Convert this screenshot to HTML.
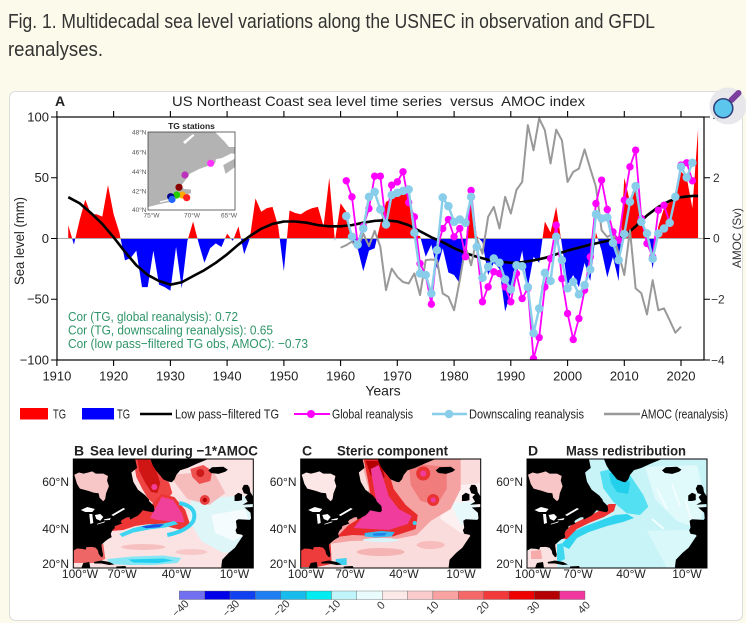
<!DOCTYPE html>
<html><head><meta charset="utf-8">
<style>
html,body{margin:0;padding:0;background:#fcfaea;}
svg{display:block;}
text{font-family:"Liberation Sans",sans-serif;}
marker{overflow:visible;}
</style></head>
<body>
<svg width="746" height="623" viewBox="0 0 746 623" xmlns="http://www.w3.org/2000/svg">
<defs>
<clipPath id="plot"><rect x="57" y="117" width="647" height="243"/></clipPath>
<clipPath id="pos"><rect x="57" y="110" width="647" height="128.5"/></clipPath>
<clipPath id="neg"><rect x="57" y="238.5" width="647" height="121.5"/></clipPath>
<clipPath id="mc"><rect x="0" y="0" width="180" height="109"/></clipPath>
<clipPath id="ic"><rect x="148" y="132" width="87" height="78"/></clipPath>
<marker id="mg" markerUnits="userSpaceOnUse" markerWidth="2" markerHeight="8" refX="0" refY="0" overflow="visible"><ellipse cx="0" cy="0" rx="0.65" ry="3.05" fill="#ff00ff"/></marker>
<marker id="lb" markerUnits="userSpaceOnUse" markerWidth="2" markerHeight="8" refX="0" refY="0" overflow="visible"><ellipse cx="0" cy="0" rx="0.75" ry="3.5" fill="#88cdea"/></marker>
</defs>
<rect width="746" height="623" fill="#fcfaea"/>
<text x="8" y="28" font-size="20" fill="#333" textLength="647" lengthAdjust="spacingAndGlyphs">Fig. 1. Multidecadal sea level variations along the USNEC in observation and GFDL</text>
<text x="8" y="56" font-size="20" fill="#333" textLength="95" lengthAdjust="spacingAndGlyphs">reanalyses.</text>
<rect x="9.5" y="91.5" width="733" height="529" rx="6" fill="#fff" stroke="#dcdcdc"/>

<!-- Panel A titles -->
<text x="55" y="106" font-size="14" font-weight="bold" fill="#222">A</text>
<text x="172" y="106" font-size="14" fill="#222" textLength="413" lengthAdjust="spacingAndGlyphs">US Northeast Coast sea level time series&#160; versus&#160; AMOC index</text>

<!-- fills -->
<g clip-path="url(#pos)">
<polygon transform="translate(56.9,238.5) scale(5.674,-1.215) translate(-1910,0)" fill="#ff0000" points="1912,0 1912,11 1913,-5 1914,15 1915,32 1916,20 1917,20 1918,18 1919,44 1920,20 1921,5 1922,-18 1923,-16 1924,-10 1925,-40 1926,-40 1927,-10 1928,-38 1929,-40 1930,-43 1931,-7 1932,-41 1933,-2 1934,14 1935,-4 1936,-20 1937,-8 1938,-4 1939,-7 1940,4 1941,-2 1942,10 1943,-13 1944,0 1945,33 1946,22 1947,25 1948,26 1949,10 1950,-27 1951,23 1952,21 1953,20 1954,23 1955,25 1956,26 1957,10 1958,50 1959,-2 1960,29 1961,22 1962,-3 1963,-8 1964,-27 1965,-10 1966,-8 1967,12 1968,30 1969,33 1970,35 1971,38 1972,36 1973,3 1974,2 1975,-15 1976,-5 1977,-25 1978,-8 1979,-28 1980,-30 1981,-37 1982,-5 1983,40 1984,2 1985,-3 1986,-30 1987,-20 1988,-25 1989,-60 1990,-45 1991,-30 1992,-10 1993,-40 1994,-15 1995,-20 1996,14 1997,5 1998,26 1999,-5 2000,-38 2001,-30 2002,-40 2003,-20 2004,-35 2005,5 2006,-10 2007,-32 2008,-15 2009,-35 2010,50 2011,30 2012,45 2013,15 2014,5 2015,-25 2016,10 2017,25 2018,30 2019,35 2020,55 2021,50 2022,25 2023,90 2023,0"/>
</g>
<g clip-path="url(#neg)">
<polygon transform="translate(56.9,238.5) scale(5.674,-1.215) translate(-1910,0)" fill="#0000ff" points="1912,0 1912,11 1913,-5 1914,15 1915,32 1916,20 1917,20 1918,18 1919,44 1920,20 1921,5 1922,-18 1923,-16 1924,-10 1925,-40 1926,-40 1927,-10 1928,-38 1929,-40 1930,-43 1931,-7 1932,-41 1933,-2 1934,14 1935,-4 1936,-20 1937,-8 1938,-4 1939,-7 1940,4 1941,-2 1942,10 1943,-13 1944,0 1945,33 1946,22 1947,25 1948,26 1949,10 1950,-27 1951,23 1952,21 1953,20 1954,23 1955,25 1956,26 1957,10 1958,50 1959,-2 1960,29 1961,22 1962,-3 1963,-8 1964,-27 1965,-10 1966,-8 1967,12 1968,30 1969,33 1970,35 1971,38 1972,36 1973,3 1974,2 1975,-15 1976,-5 1977,-25 1978,-8 1979,-28 1980,-30 1981,-37 1982,-5 1983,40 1984,2 1985,-3 1986,-30 1987,-20 1988,-25 1989,-60 1990,-45 1991,-30 1992,-10 1993,-40 1994,-15 1995,-20 1996,14 1997,5 1998,26 1999,-5 2000,-38 2001,-30 2002,-40 2003,-20 2004,-35 2005,5 2006,-10 2007,-32 2008,-15 2009,-35 2010,50 2011,30 2012,45 2013,15 2014,5 2015,-25 2016,10 2017,25 2018,30 2019,35 2020,55 2021,50 2022,25 2023,90 2023,0"/>
</g>
<line x1="57" y1="238.5" x2="704" y2="238.5" stroke="#aaa" stroke-width="1"/>

<g clip-path="url(#plot)">
<polyline transform="translate(56.9,238.5) scale(5.674,-1.215) translate(-1910,0)" fill="none" stroke="#000" stroke-width="2.6" vector-effect="non-scaling-stroke" stroke-linejoin="round" points="1912,34 1914,29 1916,21 1918,12 1920,1 1922,-11 1924,-22 1926,-30 1928,-35 1930,-38 1932,-36 1934,-31 1936,-26 1938,-20 1940,-13 1942,-5 1944,2 1946,8 1948,12 1950,14 1952,14 1954,13 1956,11 1958,10 1960,10 1962,11 1964,13 1966,14.5 1968,15 1970,14 1972,11 1974,6 1976,1 1978,-3 1980,-8 1982,-12 1984,-15 1986,-17.5 1988,-19 1990,-20 1992,-19.5 1994,-18 1996,-16 1998,-13 2000,-10 2002,-7.5 2004,-5 2006,-3 2008,-1 2010,2 2012,10 2014,19 2016,26 2018,31 2020,34 2022,35 2023,35"/>
<polyline transform="translate(56.9,238.5) scale(5.674,-30.4) translate(-1910,0)" fill="none" stroke="#999" stroke-width="2" vector-effect="non-scaling-stroke" stroke-linejoin="round" points="1960,-0.3 1961,-0.22 1962,-0.1 1963,-0.33 1964,0.16 1965,-0.25 1966,0.25 1967,-0.27 1968,-1.7 1969,-0.99 1970,-1.26 1971,-1.43 1972,-1.48 1973,-1.15 1974,-1.86 1975,-0.71 1976,-0.69 1977,-0.71 1978,-1.81 1979,-1.92 1980,-2.36 1981,-1.37 1982,-0.27 1983,-0.88 1984,0 1985,-0.5 1986,0.71 1987,1.04 1988,0.33 1989,1.37 1990,0.82 1991,1.6 1992,1.86 1993,3.73 1994,2.9 1995,3.95 1996,3.56 1997,2.47 1998,3.58 1999,3.23 2000,1.86 2001,2.19 2002,2.3 2003,2.93 2004,2.3 2005,1.7 2006,0.27 2007,0.05 2008,0.16 2009,-0.5 2010,-1.2 2011,0.27 2012,-1.64 2013,-1.8 2014,-2.5 2015,-1.37 2016,-2.36 2017,-2.3 2018,-2.69 2019,-3.1 2020,-2.9"/>
<polyline transform="translate(56.9,238.5) scale(5.674,-1.215) translate(-1910,0)" fill="none" stroke="#ff00ff" stroke-width="1.8" vector-effect="non-scaling-stroke" stroke-linejoin="round" marker-start="url(#mg)" marker-mid="url(#mg)" marker-end="url(#mg)" points="1961,47.5 1962,34.3 1963,-4.1 1964,10 1965,24.7 1966,51.3 1967,51.3 1968,11.8 1969,43.9 1970,46.6 1971,54.9 1972,29.6 1973,17.8 1974,-20.6 1975,-30.2 1976,-54 1977,-9.1 1978,8.2 1979,15.6 1980,1.4 1981,8.2 1982,-15 1983,39.5 1984,-6.9 1985,-52.1 1986,-39.8 1987,-27.4 1988,-28.8 1989,-39.8 1990,-52.1 1991,-28.8 1992,-49.4 1993,-41.2 1994,-98.8 1995,-81.5 1996,-39.8 1997,-16.5 1998,11 1999,-33 2000,-61.7 2001,-83.1 2002,-65.8 2003,-42.5 2004,-15.1 2005,28.8 2006,48 2007,23.9 2008,5.5 2009,-1.4 2010,31.6 2011,59 2012,72.7 2013,16.5 2014,-4.1 2015,-15.1 2016,23.3 2017,27.4 2018,12.9 2019,34.3 2020,60.4 2021,62.3 2022,47.5"/>
<polyline transform="translate(56.9,238.5) scale(5.674,-1.215) translate(-1910,0)" fill="none" stroke="#88cdea" stroke-width="2.4" vector-effect="non-scaling-stroke" stroke-linejoin="round" marker-start="url(#lb)" marker-mid="url(#lb)" marker-end="url(#lb)" points="1961,18.4 1962,1.4 1963,-5 1964,8.2 1965,34.3 1966,38.4 1967,23.9 1968,11.5 1969,35.7 1970,37.6 1971,39.2 1972,40.3 1973,4.7 1974,-28.8 1975,-30 1976,-45.3 1977,-9.6 1978,33.7 1979,26.6 1980,13.7 1981,15.6 1982,12.9 1983,34.3 1984,-6.9 1985,-32.4 1986,-23.3 1987,-16.5 1988,-20 1989,-33.7 1990,-42 1991,-22 1992,-22.8 1993,-40 1994,-78 1995,-57.6 1996,-28.3 1997,-35 1998,1.4 1999,-17.8 2000,-41 2001,-35.7 2002,-46 2003,-38.4 2004,-25.5 2005,20 2006,16.5 2007,17.3 2008,-3.6 2009,-17.8 2010,3.6 2011,30.2 2012,43.1 2013,13.7 2014,4.1 2015,-16.7 2016,4.1 2017,8.2 2018,12.9 2019,34.3 2020,59 2021,50.2 2022,62.3"/>
</g>

<!-- axes -->
<rect x="57" y="117" width="647" height="243" fill="none" stroke="#000" stroke-width="1.2"/>
<g stroke="#000" stroke-width="1.1">
<path d="M56.9,111V117M113.6,111V117M170.4,111V117M227.1,111V117M283.9,111V117M340.6,111V117M397.3,111V117M454.1,111V117M510.8,111V117M567.6,111V117M624.3,111V117M681,111V117"/>
<path d="M56.9,360V366M113.6,360V366M170.4,360V366M227.1,360V366M283.9,360V366M340.6,360V366M397.3,360V366M454.1,360V366M510.8,360V366M567.6,360V366M624.3,360V366M681,360V366"/>
<path d="M51,117H57M51,177.75H57M51,238.5H57M51,299.25H57M51,360H57"/>
<path d="M704,117H710M704,177.75H710M704,238.5H710M704,299.25H710M704,360H710"/>
</g>
<g font-size="13" fill="#222" text-anchor="end">
<text x="49" y="121.5">100</text>
<text x="49" y="182.2">50</text>
<text x="49" y="243">0</text>
<text x="49" y="303.7">−50</text>
<text x="49" y="364.5">−100</text>
</g>
<g font-size="12" fill="#333">
<text x="713" y="121">4</text>
<text x="713" y="182">2</text>
<text x="713" y="242.5">0</text>
<text x="711" y="303.5">−2</text>
<text x="711" y="364.5">−4</text>
</g>
<g font-size="13" fill="#222" text-anchor="middle">
<text x="56.9" y="380.5">1910</text><text x="113.6" y="380.5">1920</text><text x="170.4" y="380.5">1930</text><text x="227.1" y="380.5">1940</text><text x="283.9" y="380.5">1950</text><text x="340.6" y="380.5">1960</text><text x="397.3" y="380.5">1970</text><text x="454.1" y="380.5">1980</text><text x="510.8" y="380.5">1990</text><text x="567.6" y="380.5">2000</text><text x="624.3" y="380.5">2010</text><text x="681" y="380.5">2020</text>
</g>
<text x="383" y="395.5" font-size="14" fill="#222" text-anchor="middle">Years</text>
<text transform="translate(24,241) rotate(-90)" font-size="14" fill="#222" text-anchor="middle" textLength="88" lengthAdjust="spacingAndGlyphs">Sea level (mm)</text>
<text transform="translate(741,238) rotate(-90)" font-size="12" fill="#333" text-anchor="middle" textLength="60" lengthAdjust="spacingAndGlyphs">AMOC  (Sv)</text>

<g font-size="13" fill="#2e9468">
<text x="68" y="321" textLength="170" lengthAdjust="spacingAndGlyphs">Cor (TG, global reanalysis): 0.72</text>
<text x="68" y="334.5" textLength="205" lengthAdjust="spacingAndGlyphs">Cor (TG, downscaling reanalysis): 0.65</text>
<text x="68" y="348" textLength="240" lengthAdjust="spacingAndGlyphs">Cor (low pass−filtered TG obs, AMOC): −0.73</text>
</g>

<!-- inset map -->
<rect x="148" y="132" width="87" height="78" fill="#b3b3b3"/>
<g clip-path="url(#ic)" fill="#fff">
<path d="M148,210 L148,207 158,204.5 172,201.5 176,199 179,196 185,195.5 191,193 191,189.5 184,189 181,186 184,182 186.4,178.8 189.6,173.9 199.2,169 207.2,166.1 215.2,163.2 216,159.3 222,158 231.2,153.4 235,154 235,158.5 223.2,165.1 225.6,173.9 235,167 235,210 Z"/>
<path d="M215,132 L235,132 235,147 229,147 224,141 219,136 Z"/>
<path d="M183,142 L193,134 194.5,135.5 185,144 Z"/>
<path d="M160,202 L176,198" stroke="#fff" stroke-width="1.2" fill="none"/>
</g>
<rect x="148" y="132" width="87" height="78" fill="none" stroke="#444" stroke-width="0.8"/>
<text x="191.5" y="129" font-size="8.5" font-weight="bold" fill="#222" text-anchor="middle">TG stations</text>
<g font-size="6.5" fill="#555" text-anchor="end">
<text x="146.5" y="134.5">48°N</text><text x="146.5" y="154.5">46°N</text><text x="146.5" y="174">44°N</text><text x="146.5" y="193.5">42°N</text><text x="146.5" y="212">40°N</text>
</g>
<g font-size="6.5" fill="#555" text-anchor="middle">
<text x="151.5" y="217.5">75°W</text><text x="192" y="217.5">70°W</text><text x="229" y="217.5">65°W</text>
</g>
<circle cx="210.7" cy="163.3" r="3.6" fill="#ff33ff"/>
<circle cx="185" cy="175" r="3.6" fill="#bb33bb"/>
<circle cx="179" cy="187.3" r="3.6" fill="#880000"/>
<circle cx="182.3" cy="195" r="3.6" fill="#ffaa00"/>
<circle cx="186.7" cy="197.7" r="3.6" fill="#ff2222"/>
<circle cx="176.7" cy="195" r="3.6" fill="#22cc00"/>
<circle cx="170.7" cy="196.7" r="3.6" fill="#000088"/>
<circle cx="172" cy="199.5" r="3.6" fill="#2266ff"/>

<!-- legend -->
<rect x="20" y="408" width="28" height="11.5" fill="#ff0000"/>
<rect x="82" y="408" width="32" height="11.5" fill="#0000ff"/>
<line x1="140" y1="414" x2="172" y2="414" stroke="#000" stroke-width="2.5"/>
<line x1="294" y1="414" x2="330" y2="414" stroke="#ff00ff" stroke-width="2"/>
<circle cx="311" cy="414" r="4" fill="#ff00ff"/>
<line x1="432" y1="414" x2="467" y2="414" stroke="#88cdea" stroke-width="2.5"/>
<circle cx="449" cy="414" r="4.3" fill="#88cdea"/>
<line x1="604" y1="414" x2="640" y2="414" stroke="#999" stroke-width="2.5"/>
<g font-size="12.5" fill="#222">
<text x="53" y="418.5" textLength="13" lengthAdjust="spacingAndGlyphs">TG</text>
<text x="117" y="418.5" textLength="13" lengthAdjust="spacingAndGlyphs">TG</text>
<text x="175" y="418.5" textLength="104" lengthAdjust="spacingAndGlyphs">Low pass−filtered TG</text>
<text x="332" y="418.5" textLength="81" lengthAdjust="spacingAndGlyphs">Global reanalysis</text>
<text x="469" y="418.5" textLength="115" lengthAdjust="spacingAndGlyphs">Downscaling reanalysis</text>
<text x="641" y="418.5" textLength="87" lengthAdjust="spacingAndGlyphs">AMOC (reanalysis)</text>
</g>

<!-- map titles -->
<g font-size="14" font-weight="bold" fill="#222">
<text x="74" y="455.5">B</text>
<text x="90" y="455.5" textLength="168" lengthAdjust="spacingAndGlyphs">Sea level during −1*AMOC</text>
<text x="302" y="455.5">C</text>
<text x="337" y="455.5" textLength="111" lengthAdjust="spacingAndGlyphs">Steric component</text>
<text x="528" y="455.5">D</text>
<text x="566" y="455.5" textLength="120" lengthAdjust="spacingAndGlyphs">Mass redistribution</text>
</g>

<!-- MAP B -->
<g transform="translate(73.3,459)"><g clip-path="url(#mc)">
<rect width="180" height="109" fill="#fbe3e3"/>
<path d="M118,40 L180,36 180,90 150,94 128,82 116,62 Z" fill="#dff6f9"/>
<path d="M138,56 L172,50 178,72 160,82 142,74 Z" fill="#f5fcfd"/>
<path d="M96,16 L140,12 152,34 136,46 114,40 Z" fill="#f6bcbc"/>
<rect x="0" y="8" width="42" height="42" fill="#f7c6c6"/>
<path d="M60,0 L78,0 88,14 96,24 99,34 93,42 82,46 75,40 69,30 63,18 Z" fill="#ef4444"/>
<path d="M64,0 L76,0 83,12 87,24 84,34 78,33 72,24 66,12 Z" fill="#d01515"/>
<circle cx="81" cy="28" r="3" fill="#f0409a"/>
<path d="M38,72 L46,62 56,57 66,53 78,46 88,35 101,38 112,51 117,66 108,71 92,67 76,65 62,67 50,71 Z" fill="#ee3535"/>
<path d="M88.4,37.7 L100,41 109,55 111,63.5 98,62.5 84,61 77,59 80,52 84,46 Z" fill="#f0409a"/>
<path d="M46,75 L60,69 75,65.5 90,64.5 101,62 105,65 92,68.5 76,70.5 60,73.5 49,78 Z" fill="#3fd4f0"/>
<path d="M68,67.5 L82,65.3 91,65.3 86,68.3 73,69.3 Z" fill="#1a4fe6"/>
<path d="M106,44 Q125,48 120,62 Q114,72 94,76" fill="none" stroke="#36d2f0" stroke-width="4"/>
<path d="M117,10 L130,6 139,12 137,22 126,25 119,18 Z" fill="#ef5050"/>
<circle cx="127" cy="14" r="4" fill="#cc1a1a"/>
<circle cx="131.5" cy="41" r="5" fill="#e84040"/>
<circle cx="131.5" cy="41" r="2.2" fill="#b80000"/>
<ellipse cx="70" cy="88" rx="22" ry="3" fill="#f7c0c0"/>
<ellipse cx="118" cy="93" rx="16" ry="3" fill="#f8c8c8"/>
<path d="M34,100 L60,97.5 90,96.5 108,99 104,104 80,106 55,106 36,105 Z" fill="#86e6f4"/>
<path d="M55,100.5 L90,99.5 100,101.5 85,104 60,103.5 Z" fill="#22cff0"/>
<path d="M0,86 L30,85 32,100 20,104 0,104 Z" fill="#ef6666"/>
<g fill="#000">
<path fill-rule="evenodd" d="M0,0 L61.9,0 63.75,8.9 58.1,13.5 60,22.7 64.7,30.8 72.2,36.5 75.6,40.6 75.9,42.2 80.6,46.9 81.2,51.5 79.7,53.3 75.9,52.6 69.4,51.2 67.5,53.75 64.7,56.5 56.8,60.65 56.25,58.1 53.4,58.35 48.4,61.1 47.25,62.95 48.75,64.55 45.9,65.5 41.6,67.1 41.25,69.3 38.8,71.7 37.5,74.7 38.4,78.1 34.7,80.1 31.9,82.3 28.1,85.7 28.9,91.7 29.8,95.7 29.1,98.3 27.6,97.7 25.3,94.7 24.75,91.7 22.5,88.7 18.75,87.9 13.1,88.1 12.2,90.7 9.4,89.9 3.75,89.5 0,91.7 Z M1,15.8 L3.75,25 6.6,29.6 15,31.9 20.6,33.7 25.3,34.2 26.25,38.8 30,42.25 31.9,39.95 32.8,34.2 35.6,27.3 33.75,21.55 34.7,16.95 30,14.65 22.5,14.65 18.75,12.35 15,13.5 10.3,14.65 5.6,13.5 Z"/>
<path d="M76.9,0 L79.7,6.9 82.5,11.2 86.25,15.8 90,20.4 95.6,22.7 98.4,23.2 101.25,20.4 103.1,15.8 106.9,11.2 114.4,8.9 123.75,4.6 135,0 Z"/>
<path d="M135,11.4 L138.75,8.2 150,7.75 154.5,10.7 151.9,12.8 145.3,14.9 137.8,14 Z"/>
<path d="M170.6,25.9 L174.4,25.9 176.25,28.5 177,33.1 180,37.7 180,45 169.3,45.7 174.4,42.7 171.6,38.1 174.4,35.3 170.6,34.2 168.75,29.6 Z"/>
<path d="M161.25,42 L161.25,36.5 165,33.7 168.75,35.3 168.75,41.1 165,42 Z"/>
<path d="M180,48 L171.2,48.5 177.2,53.75 177.75,59.5 176.6,60.9 165,60.2 162.6,61.8 163.5,68.7 162.2,71.3 163.5,74.7 168.75,75.7 169.7,77 168.75,78 161.6,88.7 155.6,93.7 148.9,100.7 148.1,106.7 148,109 180,109 Z"/>
<path d="M20.6,103 L28,101.5 36,103 41,105.5 36,106 28,104.5 21,104.5 Z"/>
<path d="M8,109 L10,104 16,103 17,109 Z"/>
<path d="M43,107.5 L52,107 53,109 43,109 Z"/>
</g>
<g fill="#fff">
<path d="M7.5,51 L14,48 21.6,50 19,53 12,53 Z"/><path d="M16,55 L19,55 20,64 17,65 Z"/><path d="M21.6,56 L27,55 30,58 27,61.8 23,60 Z"/><path d="M23.4,65 L31.9,62.3 31,63.5 24,65.5 Z"/><path d="M30.4,60.5 L37.5,59 36.5,61 31,61.3 Z"/><path d="M38,56 L50,49 52,50 40,57 Z"/>
</g>
</g><rect width="180" height="109" fill="none" stroke="#000" stroke-width="1"/></g>

<!-- MAP C -->
<g transform="translate(300.7,459)"><g clip-path="url(#mc)">
<rect width="180" height="109" fill="#fbdcdc"/>
<path d="M138,28 L180,24 180,72 160,74 140,60 Z" fill="#fdf0f0"/>
<path d="M150,44 L176,42 178,62 160,66 Z" fill="#e8f9fb"/>
<rect x="0" y="8" width="42" height="42" fill="#fce6e6"/>
<path d="M60,0 L160,0 160,30 150,50 130,62 116,76 90,81 50,82 28,85 30,72 50,60 64,48 68,30 Z" fill="#f5a2a2"/>
<path d="M108,4 L146,8 146,30 136,46 120,42 110,26 Z" fill="#f17c7c"/>
<path d="M63,0 L84,0 93,30 105,46 117,56 115,70 92,77.5 52,76 36,78 48,66 64,56 71,42 67,20 Z" fill="#e82a2a"/>
<path d="M65,2 L80,2 84,18 77,23 70,16 Z" fill="#b40000"/>
<path d="M70,10 L75,40 64,55 53,69 88,71 107,65 111,57 98,50 88,37 82,17 78,6 Z" fill="#f03c9c"/>
<circle cx="122.5" cy="14.5" r="7" fill="#ea3434"/><circle cx="122.5" cy="14.5" r="3" fill="#f03c9c"/>
<circle cx="132.5" cy="41" r="6" fill="#ea3434"/><circle cx="132.5" cy="41" r="2.5" fill="#f03c9c"/>
<path d="M64,74 L80,72 94,73 91,77.5 75,78.5 64,77.5 Z" fill="#3ab8f0"/>
<path d="M72,74.5 L86,73.8 84,76.5 73,76.8 Z" fill="#1f7fe8"/>
<ellipse cx="80" cy="81" rx="18" ry="2" fill="#d8f4fa"/>
<circle cx="114" cy="64" r="2" fill="#40d0f0"/>
<ellipse cx="80" cy="93" rx="24" ry="4" fill="#f5b4b4"/>
<ellipse cx="130" cy="86" rx="14" ry="4" fill="#f7bcbc"/>
<path d="M0,86 L30,85 31,105 16,108 0,108 Z" fill="#ee3c3c"/>
<path d="M35,100 L46,99 46,106 35,106 Z" fill="#40d0f0"/>
<g fill="#000">
<path fill-rule="evenodd" d="M0,0 L61.9,0 63.75,8.9 58.1,13.5 60,22.7 64.7,30.8 72.2,36.5 75.6,40.6 75.9,42.2 80.6,46.9 81.2,51.5 79.7,53.3 75.9,52.6 69.4,51.2 67.5,53.75 64.7,56.5 56.8,60.65 56.25,58.1 53.4,58.35 48.4,61.1 47.25,62.95 48.75,64.55 45.9,65.5 41.6,67.1 41.25,69.3 38.8,71.7 37.5,74.7 38.4,78.1 34.7,80.1 31.9,82.3 28.1,85.7 28.9,91.7 29.8,95.7 29.1,98.3 27.6,97.7 25.3,94.7 24.75,91.7 22.5,88.7 18.75,87.9 13.1,88.1 12.2,90.7 9.4,89.9 3.75,89.5 0,91.7 Z M1,15.8 L3.75,25 6.6,29.6 15,31.9 20.6,33.7 25.3,34.2 26.25,38.8 30,42.25 31.9,39.95 32.8,34.2 35.6,27.3 33.75,21.55 34.7,16.95 30,14.65 22.5,14.65 18.75,12.35 15,13.5 10.3,14.65 5.6,13.5 Z"/>
<path d="M76.9,0 L79.7,6.9 82.5,11.2 86.25,15.8 90,20.4 95.6,22.7 98.4,23.2 101.25,20.4 103.1,15.8 106.9,11.2 114.4,8.9 123.75,4.6 135,0 Z"/>
<path d="M135,11.4 L138.75,8.2 150,7.75 154.5,10.7 151.9,12.8 145.3,14.9 137.8,14 Z"/>
<path d="M170.6,25.9 L174.4,25.9 176.25,28.5 177,33.1 180,37.7 180,45 169.3,45.7 174.4,42.7 171.6,38.1 174.4,35.3 170.6,34.2 168.75,29.6 Z"/>
<path d="M161.25,42 L161.25,36.5 165,33.7 168.75,35.3 168.75,41.1 165,42 Z"/>
<path d="M180,48 L171.2,48.5 177.2,53.75 177.75,59.5 176.6,60.9 165,60.2 162.6,61.8 163.5,68.7 162.2,71.3 163.5,74.7 168.75,75.7 169.7,77 168.75,78 161.6,88.7 155.6,93.7 148.9,100.7 148.1,106.7 148,109 180,109 Z"/>
<path d="M20.6,103 L28,101.5 36,103 41,105.5 36,106 28,104.5 21,104.5 Z"/>
<path d="M8,109 L10,104 16,103 17,109 Z"/>
<path d="M43,107.5 L52,107 53,109 43,109 Z"/>
</g>
<g fill="#fff">
<path d="M7.5,51 L14,48 21.6,50 19,53 12,53 Z"/><path d="M16,55 L19,55 20,64 17,65 Z"/><path d="M21.6,56 L27,55 30,58 27,61.8 23,60 Z"/><path d="M23.4,65 L31.9,62.3 31,63.5 24,65.5 Z"/><path d="M30.4,60.5 L37.5,59 36.5,61 31,61.3 Z"/><path d="M38,56 L50,49 52,50 40,57 Z"/>
</g>
</g><rect width="180" height="109" fill="none" stroke="#000" stroke-width="1"/></g>

<!-- MAP D -->
<g transform="translate(527,459)"><g clip-path="url(#mc)">
<rect width="180" height="109" fill="#c8f4f8"/>
<path d="M118,8 L170,6 178,40 172,70 150,62 128,40 Z" fill="#e0f9fb"/>
<path d="M120,72 L180,70 180,109 140,109 Z" fill="#d8f8fa"/>
<path d="M130,30 l10,20 M145,25 l8,22 M158,40 l6,20 M125,60 l12,10" stroke="#f2fdfe" stroke-width="2" fill="none"/>
<rect x="0" y="6" width="44" height="46" fill="#f8c6c6"/>
<path d="M73,12.7 L86.3,9.3 103,16 116.3,36 121.3,47.7 113,56 99.7,54.3 86.3,42.7 76.3,29.3 Z" fill="#52e0f2"/>
<path d="M82,14 L96,14 103,24 101,35 90,33 84,24 Z" fill="#22d0ec"/>
<path d="M34,86 L44,74 56,68 72,62 88,56 100,55 107,59 96,63 80,67 62,73 50,79 42,90 Z" fill="#30d4ee"/>
<path d="M32,80 L44,66 56,60 70,53 82,45 89,45 87,52 77,58 62,64 50,70 40,80 Z" fill="#ee3232"/>
<path d="M28,86 L36,84 38,100 30,104 Z" fill="#40d8ee"/>
<path d="M0,86 L30,85 30,109 0,109 Z" fill="#fbe2e2"/>
<path d="M4,92 L14,91 15,100 4,100 Z" fill="#f6aaaa"/>
<g fill="#000">
<path fill-rule="evenodd" d="M0,0 L61.9,0 63.75,8.9 58.1,13.5 60,22.7 64.7,30.8 72.2,36.5 75.6,40.6 75.9,42.2 80.6,46.9 81.2,51.5 79.7,53.3 75.9,52.6 69.4,51.2 67.5,53.75 64.7,56.5 56.8,60.65 56.25,58.1 53.4,58.35 48.4,61.1 47.25,62.95 48.75,64.55 45.9,65.5 41.6,67.1 41.25,69.3 38.8,71.7 37.5,74.7 38.4,78.1 34.7,80.1 31.9,82.3 28.1,85.7 28.9,91.7 29.8,95.7 29.1,98.3 27.6,97.7 25.3,94.7 24.75,91.7 22.5,88.7 18.75,87.9 13.1,88.1 12.2,90.7 9.4,89.9 3.75,89.5 0,91.7 Z M1,15.8 L3.75,25 6.6,29.6 15,31.9 20.6,33.7 25.3,34.2 26.25,38.8 30,42.25 31.9,39.95 32.8,34.2 35.6,27.3 33.75,21.55 34.7,16.95 30,14.65 22.5,14.65 18.75,12.35 15,13.5 10.3,14.65 5.6,13.5 Z"/>
<path d="M76.9,0 L79.7,6.9 82.5,11.2 86.25,15.8 90,20.4 95.6,22.7 98.4,23.2 101.25,20.4 103.1,15.8 106.9,11.2 114.4,8.9 123.75,4.6 135,0 Z"/>
<path d="M135,11.4 L138.75,8.2 150,7.75 154.5,10.7 151.9,12.8 145.3,14.9 137.8,14 Z"/>
<path d="M170.6,25.9 L174.4,25.9 176.25,28.5 177,33.1 180,37.7 180,45 169.3,45.7 174.4,42.7 171.6,38.1 174.4,35.3 170.6,34.2 168.75,29.6 Z"/>
<path d="M161.25,42 L161.25,36.5 165,33.7 168.75,35.3 168.75,41.1 165,42 Z"/>
<path d="M180,48 L171.2,48.5 177.2,53.75 177.75,59.5 176.6,60.9 165,60.2 162.6,61.8 163.5,68.7 162.2,71.3 163.5,74.7 168.75,75.7 169.7,77 168.75,78 161.6,88.7 155.6,93.7 148.9,100.7 148.1,106.7 148,109 180,109 Z"/>
<path d="M20.6,103 L28,101.5 36,103 41,105.5 36,106 28,104.5 21,104.5 Z"/>
<path d="M8,109 L10,104 16,103 17,109 Z"/>
<path d="M43,107.5 L52,107 53,109 43,109 Z"/>
</g>
<g fill="#fff">
<path d="M7.5,51 L14,48 21.6,50 19,53 12,53 Z"/><path d="M16,55 L19,55 20,64 17,65 Z"/><path d="M21.6,56 L27,55 30,58 27,61.8 23,60 Z"/><path d="M23.4,65 L31.9,62.3 31,63.5 24,65.5 Z"/><path d="M30.4,60.5 L37.5,59 36.5,61 31,61.3 Z"/><path d="M38,56 L50,49 52,50 40,57 Z"/>
</g>
</g><rect width="180" height="109" fill="none" stroke="#000" stroke-width="1"/></g>

<!-- map axis labels -->
<g font-size="12" fill="#222" text-anchor="end">
<text x="69" y="486">60°N</text><text x="69" y="533">40°N</text><text x="69" y="568">20°N</text>
<text x="296.5" y="486">60°N</text><text x="296.5" y="533">40°N</text><text x="296.5" y="568">20°N</text>
<text x="523" y="486">60°N</text><text x="523" y="533">40°N</text><text x="523" y="568">20°N</text>
</g>
<g font-size="12" fill="#222" text-anchor="middle">
<text x="80" y="578">100°W</text><text x="122" y="578">70°W</text><text x="176.5" y="578">40°W</text><text x="234.5" y="578">10°W</text>
<text x="306" y="578">100°W</text><text x="350" y="578">70°W</text><text x="404" y="578">40°W</text><text x="461" y="578">10°W</text>
<text x="533" y="578">100°W</text><text x="578" y="578">70°W</text><text x="631" y="578">40°W</text><text x="687" y="578">10°W</text>
</g>

<!-- colorbar -->
<g stroke="#666" stroke-width="0.4">
<rect x="179.3" y="591" width="25.4" height="8.5" fill="#7070f0"/>
<rect x="204.7" y="591" width="25.4" height="8.5" fill="#0000e8"/>
<rect x="230" y="591" width="25.4" height="8.5" fill="#1040f0"/>
<rect x="255.4" y="591" width="25.4" height="8.5" fill="#1e7ef2"/>
<rect x="280.7" y="591" width="25.4" height="8.5" fill="#18bcec"/>
<rect x="306.1" y="591" width="25.4" height="8.5" fill="#00ecf0"/>
<rect x="331.5" y="591" width="25.4" height="8.5" fill="#bff5fa"/>
<rect x="356.8" y="591" width="25.4" height="8.5" fill="#e8fcfd"/>
<rect x="382.2" y="591" width="25.4" height="8.5" fill="#fde8e8"/>
<rect x="407.5" y="591" width="25.4" height="8.5" fill="#fbcaca"/>
<rect x="432.9" y="591" width="25.4" height="8.5" fill="#f8a2a2"/>
<rect x="458.3" y="591" width="25.4" height="8.5" fill="#f56868"/>
<rect x="483.6" y="591" width="25.4" height="8.5" fill="#f23a3a"/>
<rect x="509" y="591" width="25.4" height="8.5" fill="#ee0000"/>
<rect x="534.3" y="591" width="25.4" height="8.5" fill="#b40000"/>
<rect x="559.7" y="591" width="25.3" height="8.5" fill="#f0389e"/>
</g>
<g font-size="11" fill="#333" text-anchor="middle">
<text transform="translate(183,611) rotate(-45)">−40</text>
<text transform="translate(233.5,611) rotate(-45)">−30</text>
<text transform="translate(284,611) rotate(-45)">−20</text>
<text transform="translate(334.5,611) rotate(-45)">−10</text>
<text transform="translate(383.5,608) rotate(-45)">0</text>
<text transform="translate(435,610) rotate(-45)">10</text>
<text transform="translate(485.5,610) rotate(-45)">20</text>
<text transform="translate(536,610) rotate(-45)">30</text>
<text transform="translate(586.5,610) rotate(-45)">40</text>
</g>

<!-- magnifier icon -->
<circle cx="728" cy="106" r="18.5" fill="#e6e6ea" opacity="0.92"/>
<line x1="731.5" y1="100" x2="738.5" y2="93" stroke="#7b3f9e" stroke-width="6" stroke-linecap="round"/>
<circle cx="723.3" cy="108.3" r="9.5" fill="#5cc6ec" stroke="#2c3e7a" stroke-width="1.5"/>
</svg>
</body></html>
